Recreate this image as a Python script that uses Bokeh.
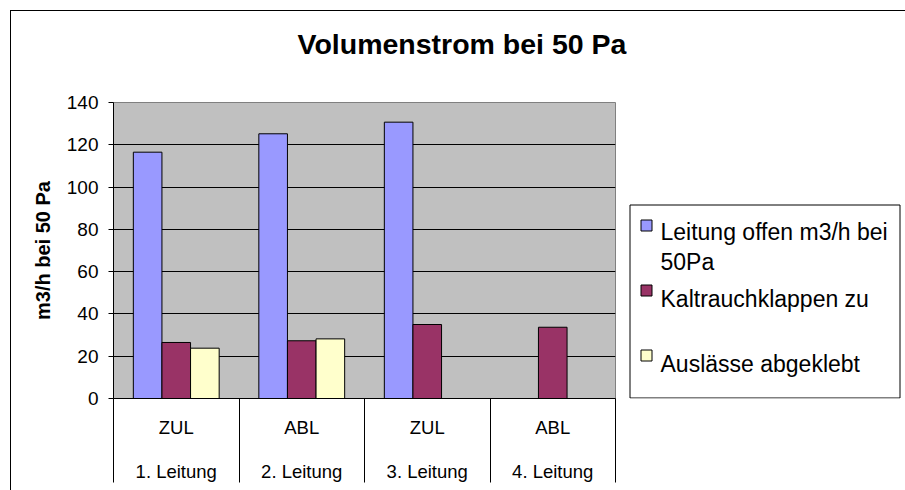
from bokeh.plotting import figure
from bokeh.models import Range1d, FixedTicker, LinearAxis, Title
from bokeh.layouts import row
from bokeh.core.properties import value
from bokeh.embed import file_html
from bokeh.resources import INLINE

# ---- data ----
categories = ["ZUL", "ABL", "ZUL", "ABL"]
groups = ["1. Leitung", "2. Leitung", "3. Leitung", "4. Leitung"]
series_names = ["Leitung offen m3/h bei 50Pa", "Kaltrauchklappen zu", "Auslässe abgeklebt"]
leitung_offen = [116.5, 125.2, 130.7, None]
kaltrauchklappen_zu = [26.5, 27.3, 35.0, 33.7]
auslaesse_abgeklebt = [23.8, 28.2, None, None]
y_ticks = [0, 20, 40, 60, 80, 100, 120, 140]
title_text = "Volumenstrom bei 50 Pa"
y_label = "m3/h bei 50 Pa"

series = [leitung_offen, kaltrauchklappen_zu, auslaesse_abgeklebt]
colors = ["#9999FF", "#993366", "#FFFFCC"]

FONT = "Liberation Sans"
W, H = 905, 490
WM = 627                               # width of the chart part
FL, FT, FR, FB = 113, 102, 615, 398    # plot-area box in pixels

p = figure(width=WM, height=H, x_range=Range1d(0.5, len(categories) + 0.5),
           y_range=Range1d(0, 140), output_backend="svg", toolbar_location=None,
           min_border_left=FL, min_border_right=WM - FR, min_border_top=FT,
           min_border_bottom=H - FB, background_fill_color="#C0C0C0",
           border_fill_color=None, outline_line_color="#808080",
           outline_line_width=1)

# outer chart-area border (top and left edges)
p.styles = {"background": "linear-gradient(#000,#000) 10px 10px / 100% 1px no-repeat, "
                          "linear-gradient(#000,#000) 10px 10px / 1px 100% no-repeat, #ffffff"}

# title (a thin spacer title keeps it up near the top)
p.title = None
p.add_layout(Title(text=" ", text_font_size="10px", standoff=25), "above")
p.add_layout(Title(text=title_text, align="left", offset=184, standoff=10,
                   text_font=FONT, text_font_style="bold", text_font_size="28.5px",
                   text_color="black"), "above")

# bars
bw = 0.228
for k, vals in enumerate(series):
    xs = [i + 1 + (k - 1) * bw for i, v in enumerate(vals) if v is not None]
    tops = [v for v in vals if v is not None]
    p.vbar(x=xs, top=tops, bottom=0, width=bw, fill_color=colors[k],
           line_color="black", line_width=1)

# grid
p.xgrid.grid_line_color = None
p.ygrid.ticker = FixedTicker(ticks=y_ticks)
p.ygrid.grid_line_color = "black"
p.ygrid.grid_line_width = 1

# y axis
ya = p.yaxis[0]
ya.ticker = FixedTicker(ticks=y_ticks)
ya.major_tick_out = 5
ya.major_tick_in = 0
ya.minor_tick_line_color = None
ya.axis_line_color = "black"
ya.major_tick_line_color = "black"
ya.major_label_standoff = 10
ya.major_label_text_font = FONT
ya.major_label_text_font_size = "19px"
ya.major_label_text_color = "black"
ya.axis_label = y_label
ya.axis_label_text_font = FONT
ya.axis_label_text_font_style = "bold"
ya.axis_label_text_font_size = "20px"
ya.axis_label_text_color = "black"
ya.axis_label_standoff = 10

# x axis (inner level); long minor ticks act as category separators
centers = [i + 1 for i in range(len(categories))]
bounds = [i + 0.5 for i in range(len(categories) + 1)]
xa = p.xaxis[0]
xa.ticker = FixedTicker(ticks=centers, minor_ticks=bounds)
xa.major_label_overrides = {c: lab for c, lab in zip(centers, categories)}
xa.major_tick_line_color = None
xa.major_tick_out = 0
xa.major_tick_in = 0
xa.minor_tick_out = 84
xa.minor_tick_in = 0
xa.minor_tick_line_color = "black"
xa.minor_tick_line_width = 1
xa.axis_line_color = "black"
xa.major_label_standoff = 18 - 84
xa.major_label_text_font = FONT
xa.major_label_text_font_size = "18.5px"
xa.major_label_text_color = "black"

# x axis (outer level)
xa2 = LinearAxis(ticker=FixedTicker(ticks=centers),
                 major_label_overrides={c: g for c, g in zip(centers, groups)},
                 axis_line_color=None, major_tick_line_color=None,
                 minor_tick_line_color=None, major_tick_out=0, major_tick_in=0,
                 major_label_standoff=20, major_label_text_font=FONT,
                 major_label_text_font_size="18.5px", major_label_text_color="black")
p.add_layout(xa2, "below")

# ---- legend panel (pixel coordinates of the whole picture) ----
# its frame is aligned with the plot area vertically by the row layout
q = figure(width=W - WM, height=H, x_range=Range1d(WM, W), y_range=Range1d(FB, FT),
           output_backend="svg", toolbar_location=None, x_axis_type=None,
           y_axis_type=None, min_border=0, min_border_left=0, min_border_right=0,
           min_border_top=0, min_border_bottom=0, outline_line_color=None,
           background_fill_color=None, border_fill_color=None)
q.grid.visible = False
q.styles = {"background": "linear-gradient(#000,#000) 0 10px / 100% 1px no-repeat, #ffffff"}

q.quad(left=629.5, right=899.5, top=204.5, bottom=397.5, fill_color="white",
       line_color="black", line_width=1)
item_centers = [225, 290, 355]
text_lines = [[("Leitung offen m3/h bei", 231.7), ("50Pa", 261.7)],
              [(series_names[1], 298.3)],
              [(series_names[2], 363.3)]]
for k, c in enumerate(item_centers):
    q.quad(left=640.5, right=651.5, top=c - 5.5, bottom=c + 5.5,
           fill_color=colors[k], line_color="black", line_width=1)
    q.text(x=[660] * len(text_lines[k]), y=[b for _, b in text_lines[k]],
           text=[t for t, _ in text_lines[k]], text_align="left",
           text_baseline="alphabetic", text_font=value(FONT),
           text_font_size=value("23px"), text_color="black")

layout = row(p, q, spacing=0)
open("out.html", "w").write(file_html(layout, INLINE))
